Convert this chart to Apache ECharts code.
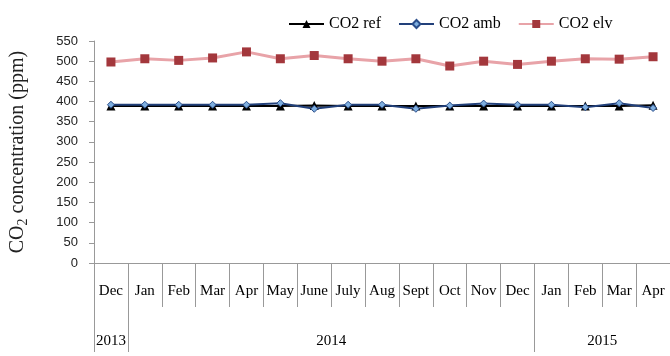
<!DOCTYPE html>
<html lang="en">
<head>
<meta charset="UTF-8">
<title>CO2 concentration</title>
<script src="https://cdn.jsdelivr.net/npm/echarts@6.0.0/dist/echarts.min.js"></script>
<style>
    html, body { margin: 0; padding: 0; background: #fff; }
    #chart { width: 670px; height: 356px; }
</style>
</head>
<body>
<div id="chart"></div>
<script>
    const months = ['Dec', 'Jan', 'Feb', 'Mar', 'Apr', 'May', 'June', 'July', 'Aug', 'Sept', 'Oct', 'Nov', 'Dec', 'Jan', 'Feb', 'Mar', 'Apr'];
    const yearLabels = ['2013', '', '', '', '', '', '2014', '', '', '', '', '', '', '', '2015', '', ''];
    const yearStarts = [0, 1, 13];

    const co2Ref = [389, 389, 389, 389, 389, 389, 390, 389, 389, 389, 389, 389, 389, 389, 389, 389, 391];
    const co2Amb = [392, 392, 392, 392, 392, 396, 382, 392, 392, 382, 390, 395, 392, 392, 386, 396, 384];
    const co2Elv = [498, 506, 502, 508, 523, 506, 514, 506, 500, 506, 488, 500, 492, 500, 506, 505, 511];

    const serif = 'Liberation Serif';
    const chart = echarts.init(document.getElementById('chart'));

    chart.setOption({
        animation: false,
        legend: {
            top: 11,
            left: 283,
            itemWidth: 35,
            itemHeight: 10,
            itemGap: 17,
            textStyle: { fontFamily: serif, fontSize: 16, color: '#000' },
            data: ['CO2 ref', 'CO2 amb', 'CO2 elv']
        },
        grid: { left: 94, top: 41, width: 579, bottom: 93 },
        xAxis: [{
            type: 'category',
            data: months,
            boundaryGap: true,
            axisLine: { show: true, lineStyle: { color: '#999' } },
            axisTick: { show: true, interval: 0, length: 44, lineStyle: { color: '#999' } },
            axisLabel: { interval: 0, margin: 21, fontFamily: serif, fontSize: 15, color: '#000' }
        }, {
            type: 'category',
            data: yearLabels,
            position: 'bottom',
            offset: 0,
            boundaryGap: true,
            axisLine: { show: false },
            axisTick: {
                show: true,
                interval: (i) => yearStarts.includes(i),
                length: 89,
                lineStyle: { color: '#999' }
            },
            axisLabel: {
                interval: (i) => yearLabels[i] !== '',
                formatter: (v, i) => (i === 0 ? v : '{shift|' + v + '}'),
                margin: 71,
                fontFamily: serif,
                fontSize: 15,
                color: '#000',
                rich: { shift: { fontFamily: serif, fontSize: 15, color: '#000', padding: [0, 0, 0, 34] } }
            }
        }],
        yAxis: {
            type: 'value',
            min: 0,
            max: 550,
            interval: 50,
            name: 'CO{sub|2} concentration (ppm)',
            nameLocation: 'middle',
            nameRotate: 90,
            nameGap: 64,
            nameTextStyle: {
                fontFamily: serif, fontSize: 20, color: '#222',
                rich: { sub: { fontFamily: serif, fontSize: 14, color: '#222', verticalAlign: 'bottom', padding: [10, 0, 0, 0] } }
            },
            splitLine: { show: false },
            axisLine: { show: true, lineStyle: { color: '#999' } },
            axisTick: { show: true, length: 5, lineStyle: { color: '#999' } },
            axisLabel: { margin: 16, fontFamily: 'Liberation Sans', fontSize: 13, color: '#222' }
        },
        series: [{
            name: 'CO2 ref',
            type: 'line',
            data: co2Ref,
            symbol: 'triangle',
            symbolSize: 9,
            itemStyle: { color: '#000' },
            lineStyle: { color: '#000', width: 2 }
        }, {
            name: 'CO2 amb',
            type: 'line',
            data: co2Amb,
            symbol: 'diamond',
            symbolSize: 7,
            itemStyle: { color: '#7eaede', borderColor: '#2a4d8a', borderWidth: 1 },
            lineStyle: { color: '#22407a', width: 2 }
        }, {
            name: 'CO2 elv',
            type: 'line',
            data: co2Elv,
            symbol: 'rect',
            symbolSize: 9,
            itemStyle: { color: '#a3373c' },
            lineStyle: { color: '#e8a3a8', width: 3 }
        }]
    });
</script>
</body>
</html>
